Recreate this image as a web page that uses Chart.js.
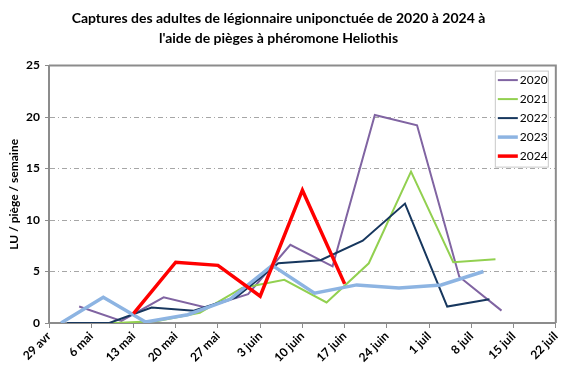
<!DOCTYPE html>
<html>
<head>
<meta charset="utf-8">
<script src="https://cdn.jsdelivr.net/npm/chart.js@4.4.1/dist/chart.umd.min.js"></script>
<style>
  body { margin: 0; background: #fff; }
  #wrap { width: 567px; height: 377px; }
</style>
</head>
<body>
<div id="wrap"><canvas id="chart" width="567" height="377"></canvas></div>
<script>
// tick labels, one per week starting 29 avr (day 0)
var weekLabels = ["29 avr", "6 mai", "13 mai", "20 mai", "27 mai", "3 juin", "10 juin",
  "17 juin", "24 juin", "1 juil", "8 juil", "15 juil", "22 juil"];

// days after 29 avr for each sampling, and catches (LU / piège / semaine)
var days2020 = [5, 12, 19, 26, 33, 40, 47, 54, 61, 68, 75];
var vals2020 = [1.6, 0.2, 2.5, 1.5, 2.8, 7.6, 5.5, 20.2, 19.2, 4.5, 1.2];

var days2021 = [4, 11, 18, 25, 32, 39, 46, 53, 60, 67, 74];
var vals2021 = [0, 0, 0.2, 1.0, 3.4, 4.2, 2.0, 5.8, 14.7, 5.9, 6.2];

var days2022 = [3, 10, 17, 24, 31, 38, 45, 52, 59, 66, 73];
var vals2022 = [0, 0, 1.5, 1.2, 2.5, 5.8, 6.1, 8.0, 11.6, 1.6, 2.3];

var days2023 = [2, 9, 16, 23, 30, 37, 44, 51, 58, 65, 72];
var vals2023 = [0, 2.5, 0.1, 0.8, 2.3, 5.6, 2.9, 3.7, 3.4, 3.7, 5.0];

var days2024 = [14, 21, 28, 35, 42, 49];
var vals2024 = [0.9, 5.9, 5.6, 2.6, 12.9, 3.8];

function pts(d, v) {
  return d.map(function(x, i) { return { x: x, y: v[i] }; });
}

var FONT = "Lato, 'Open Sans', sans-serif";

// legend box drawn inside the plot, top right
var boxLegend = {
  id: 'boxLegend',
  afterDraw: function(chart) {
    var ctx = chart.ctx, a = chart.chartArea;
    var ds = chart.data.datasets;
    var w = 53, rowH = 19, h = ds.length * rowH + 1;
    var x0 = a.right - 8 - w, y0 = a.top + 5;
    ctx.save();
    ctx.fillStyle = '#fff';
    ctx.fillRect(x0, y0, w, h);
    ctx.strokeStyle = '#c8c8c8';
    ctx.lineWidth = 1;
    ctx.strokeRect(x0 + 0.5, y0 + 0.5, w, h);
    ctx.font = "12px " + FONT;
    ctx.textBaseline = 'middle';
    ds.forEach(function(d, i) {
      var cy = y0 + 9.5 + i * rowH;
      ctx.strokeStyle = d.borderColor;
      ctx.lineWidth = d.borderWidth;
      ctx.beginPath();
      ctx.moveTo(x0 + 3, cy);
      ctx.lineTo(x0 + 23, cy);
      ctx.stroke();
      ctx.fillStyle = '#000';
      ctx.fillText(d.label, x0 + 25, cy);
    });
    ctx.restore();
  }
};

// grey frame around the plot area
var plotFrame = {
  id: 'plotFrame',
  beforeDatasetsDraw: function(chart) {
    var ctx = chart.ctx, a = chart.chartArea;
    ctx.save();
    ctx.strokeStyle = '#8c8c8c';
    ctx.lineWidth = 2;
    ctx.beginPath();
    ctx.moveTo(a.left, a.top);
    ctx.lineTo(a.right, a.top);
    ctx.lineTo(a.right, a.bottom);
    ctx.stroke();
    ctx.restore();
  }
};

var ctx = document.getElementById("chart").getContext('2d');
var myChart = new Chart(ctx, {
  type : 'line',
  data : {
    datasets : [ {
      label : "2020",
      data : pts(days2020, vals2020),
      borderColor : "#8064A2",
      borderWidth : 2,
      order : 4
    }, {
      label : "2021",
      data : pts(days2021, vals2021),
      borderColor : "#92D050",
      borderWidth : 2,
      order : 3
    }, {
      label : "2022",
      data : pts(days2022, vals2022),
      borderColor : "#17375E",
      borderWidth : 2,
      order : 2
    }, {
      label : "2023",
      data : pts(days2023, vals2023),
      borderColor : "#8DB4E2",
      borderWidth : 3.5,
      order : 1
    }, {
      label : "2024",
      data : pts(days2024, vals2024),
      borderColor : "#FF0000",
      borderWidth : 3.5,
      order : 0
    } ]
  },
  options : {
    responsive : false,
    animation : false,
    layout : { padding : { left : 0, right : 10, top : 0, bottom : 0 } },
    elements : {
      point : { radius : 0 },
      line : { tension : 0, fill : false }
    },
    plugins : {
      legend : { display : false },
      tooltip : { enabled : false },
      title : {
        display : true,
        text : [ "Captures des adultes de légionnaire uniponctuée de 2020 à 2024 à",
                 "l'aide de pièges à phéromone Heliothis" ],
        color : '#000',
        font : { family : FONT, size : 14, weight : 'bold', lineHeight : 1.45 },
        padding : { top : 8, bottom : 17 }
      }
    },
    scales : {
      x : {
        type : 'linear',
        min : 0,
        max : (weekLabels.length - 1) * 7,
        afterFit : function(s) { s.height = 54; },
        ticks : {
          stepSize : 7,
          autoSkip : false,
          maxRotation : 45,
          minRotation : 45,
          color : '#000',
          padding : 1,
          font : { family : FONT, size : 12, weight : 'bold' },
          callback : function(v) { return weekLabels[Math.round(v / 7)]; }
        },
        grid : {
          drawOnChartArea : false,
          drawTicks : true,
          tickLength : 5,
          color : '#8c8c8c',
          lineWidth : 1
        },
        border : { color : '#8c8c8c', width : 2 }
      },
      y : {
        min : 0,
        max : 25,
        afterFit : function(s) { s.width = 49; },
        ticks : {
          stepSize : 5,
          color : '#000',
          padding : 5,
          font : { family : FONT, size : 12, weight : 'bold' }
        },
        title : {
          display : true,
          text : "LU / piège / semaine",
          color : '#000',
          padding : { top : 7, bottom : 0 },
          font : { family : FONT, size : 12, weight : 'bold' }
        },
        grid : {
          color : function(c) {
            return (c.tick && c.tick.value > 0 && c.tick.value < 25) ? '#a6a6a6' : 'rgba(0,0,0,0)';
          },
          tickColor : '#8c8c8c',
          tickLength : 4,
          lineWidth : 1
        },
        border : { color : '#8c8c8c', width : 2, dash : [5, 3, 1, 3] }
      }
    }
  },
  plugins : [ plotFrame, boxLegend ]
});
</script>
</body>
</html>
